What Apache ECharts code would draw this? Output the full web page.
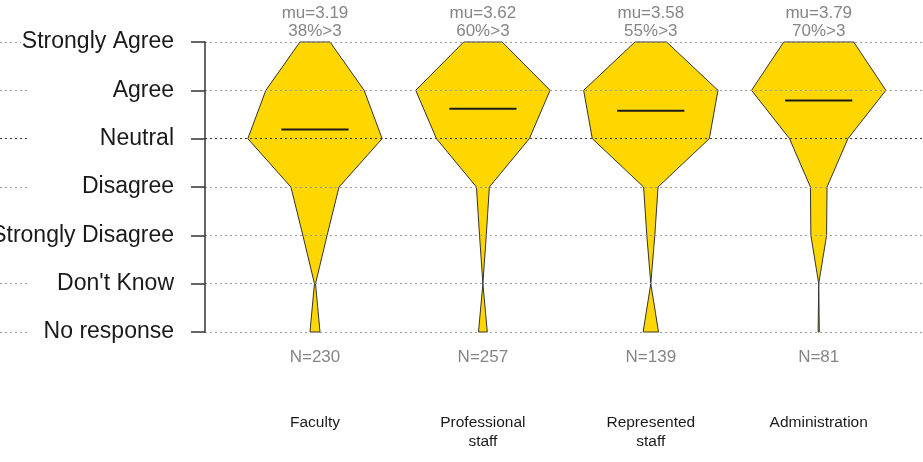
<!DOCTYPE html>
<html>
<head>
<meta charset="utf-8">
<script src="https://cdn.jsdelivr.net/npm/echarts@6/dist/echarts.min.js"></script>
<style>
  html, body { margin: 0; padding: 0; background: #fff; }
  #chart { width: 923px; height: 462px; }
</style>
</head>
<body>
<div id="chart"></div>
<script>
// Survey groups shown left to right
const groups = ['Faculty', 'Professional\nstaff', 'Represented\nstaff', 'Administration'];
// Response levels from bottom to top, with their numeric score
const levels = ['No response', "Don't Know", 'Strongly Disagree', 'Disagree', 'Neutral', 'Agree', 'Strongly Agree'];
const levelValues = [-1, 0, 1, 2, 3, 4, 5];
// Share of responses (%) at each level, in the order of `levels`
const faculty        = [2.9, 0.3, 7.0, 13.9, 38.8, 28.4, 8.7];
const professional   = [3.0, 0.0, 2.3, 4.4, 31.6, 45.7, 13.1];
const represented    = [4.8, 0.0, 2.5, 4.5, 36.5, 41.9, 9.9];
const administration = [0.4, 0.0, 5.3, 5.6, 19.7, 45.3, 23.6];
// Summary statistics per group
const means = [3.19, 3.62, 3.58, 3.79];
const pctAbove3 = [38, 60, 55, 70];
const counts = [230, 257, 139, 81];

const distributions = [faculty, professional, represented, administration];

const FONT = '"Liberation Sans", Arial, Helvetica, sans-serif';
const MAX_HALF = 0.4;   // half-width of the widest level, in x units
const MEAN_HALF = 0.2;  // half-length of the mean bar, in x units

const gridLineColors = levelValues.map(v => v === 3 ? '#3a3a3a' : '#9a9a9a');
const gridLineStyle = { color: gridLineColors, width: 1, type: [2, 3] };

function renderViolin(params, api) {
  const i = api.value(0);
  const dist = distributions[i];
  const peak = Math.max.apply(null, dist);
  const half = dist.map(p => MAX_HALF * p / peak);

  const pts = [];
  for (let k = 0; k < levelValues.length; k++) pts.push(api.coord([i + half[k], levelValues[k]]));
  for (let k = levelValues.length - 1; k >= 0; k--) pts.push(api.coord([i - half[k], levelValues[k]]));

  const m0 = api.coord([i - MEAN_HALF, means[i]]);
  const m1 = api.coord([i + MEAN_HALF, means[i]]);
  const top = api.coord([i, levelValues[levelValues.length - 1]]);
  const bottom = api.coord([i, levelValues[0]]);

  return {
    type: 'group',
    children: [
      {
        type: 'polygon',
        shape: { points: pts },
        style: { fill: '#FFD700', stroke: '#333333', lineWidth: 1 }
      },
      {
        type: 'line',
        shape: { x1: m0[0], y1: m0[1], x2: m1[0], y2: m1[1] },
        style: { stroke: '#1a1a1a', lineWidth: 2 }
      },
      {
        type: 'text',
        style: {
          x: top[0], y: top[1] - 2,
          text: 'mu=' + means[i].toFixed(2) + '\n' + pctAbove3[i] + '%>3',
          align: 'center', verticalAlign: 'bottom',
          fontFamily: FONT, fontSize: 17, lineHeight: 18, fill: '#858585'
        }
      },
      {
        type: 'text',
        style: {
          x: bottom[0], y: bottom[1] + 25,
          text: 'N=' + counts[i],
          align: 'center', verticalAlign: 'middle',
          fontFamily: FONT, fontSize: 17, fill: '#858585'
        }
      },
      {
        type: 'text',
        style: {
          x: bottom[0], y: bottom[1] + 81,
          text: groups[i],
          align: 'center', verticalAlign: 'top',
          fontFamily: FONT, fontSize: 15.5, lineHeight: 19, fill: '#1a1a1a'
        }
      }
    ]
  };
}

const chart = echarts.init(document.getElementById('chart'), null, { renderer: 'canvas' });

chart.setOption({
  animation: false,
  backgroundColor: '#ffffff',
  grid: [
    { left: 205, right: 0, top: 42, bottom: 130, containLabel: false, outerBoundsMode: 'none' },
    { left: 0, width: 28, top: 42, bottom: 130, containLabel: false, outerBoundsMode: 'none' }
  ],
  xAxis: [
    { gridIndex: 0, type: 'value', min: -0.655, max: 3.621, show: false },
    { gridIndex: 1, type: 'value', min: 0, max: 1, show: false }
  ],
  yAxis: [
    {
      gridIndex: 0,
      type: 'value',
      min: -1, max: 5, interval: 1,
      z: 3,
      axisLine: { show: true, onZero: false, lineStyle: { color: '#333333', width: 1.5 } },
      axisTick: { show: true, inside: false, length: 14, lineStyle: { color: '#333333', width: 1.5 } },
      axisLabel: {
        margin: 30,
        fontFamily: FONT,
        fontSize: 23,
        color: '#1a1a1a',
        backgroundColor: '#ffffff',
        padding: [5, 1, 0, 1],
        formatter: v => levels[levelValues.indexOf(v)]
      },
      splitLine: { show: true, lineStyle: gridLineStyle }
    },
    {
      gridIndex: 1,
      type: 'value',
      min: -1, max: 5, interval: 1,
      z: 0,
      axisLine: { show: false, onZero: false },
      axisTick: { show: false },
      axisLabel: { show: false },
      splitLine: { show: true, lineStyle: gridLineStyle }
    }
  ],
  series: [
    {
      type: 'custom',
      xAxisIndex: 0,
      yAxisIndex: 0,
      clip: false,
      z: 2,
      renderItem: renderViolin,
      data: groups.map((g, i) => [i])
    }
  ]
});
</script>
</body>
</html>
